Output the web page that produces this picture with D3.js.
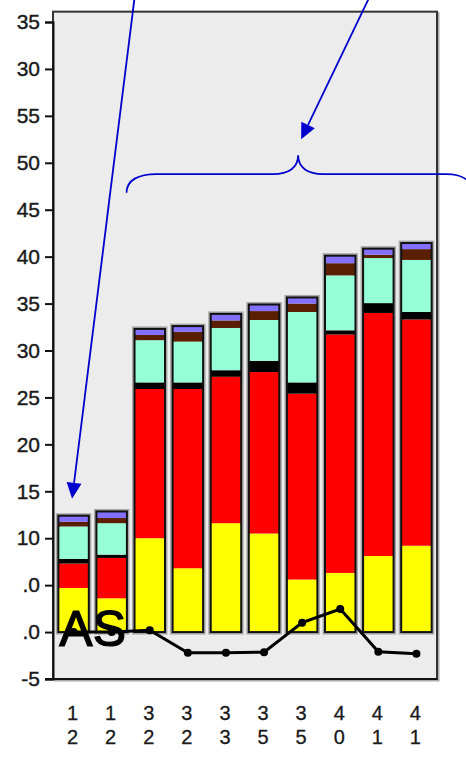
<!DOCTYPE html>
<html>
<head>
<meta charset="utf-8">
<script src="https://cdn.jsdelivr.net/npm/d3@7"></script>
<style>
  body { margin: 0; background: #fff; }
  svg { display: block; }
  text { font-family: "Liberation Sans", Arial, sans-serif; }
</style>
</head>
<body>
<script>
// categories (x labels, read top to bottom)
var categories = ["12", "12", "32", "32", "33", "35", "35", "40", "41", "41"];

// stacked series, bottom to top
var yellowVals = [4.7, 3.6, 10.0, 6.8, 11.6, 10.5, 5.6, 6.3, 8.1, 9.2];
var redVals    = [2.6, 4.3, 15.9, 19.1, 15.6, 17.2, 19.8, 25.4, 25.9, 24.1];
var blackVals  = [0.5, 0.35, 0.7, 0.7, 0.7, 1.2, 1.2, 0.45, 1.05, 0.8];
var aquaVals   = [3.45, 3.35, 4.5, 4.35, 4.5, 4.35, 7.5, 5.85, 4.8, 5.55];
var brownVals  = [0.5, 0.55, 0.55, 1.05, 0.8, 0.95, 0.9, 1.3, 0.35, 1.15];
var purpleVals = [0.65, 0.7, 0.65, 0.6, 0.7, 0.7, 0.65, 0.8, 0.65, 0.65];

// line series
var lineVals = [0, 0, 0.2, -2.2, -2.2, -2.15, 1.0, 2.45, -2.1, -2.3];

// y ticks and their labels as they appear
var yTicks = [-5, 0, 5, 10, 15, 20, 25, 30, 35, 40, 45, 50, 55, 60, 65];
var yTickLabels = ["-5", ".0", ".0", "10", "15", "20", "25", "30", "35", "40", "45", "50", "55", "30", "35"];

var keys = ["yellow", "red", "black", "aqua", "brown", "purple"];
var colors = {
  yellow: "#ffff00", red: "#ff0000", black: "#000000",
  aqua: "#96ffd8", brown: "#5a1e00", purple: "#8470ff"
};

var width = 466;
var height = 761;
var plotLeft = 53;
var plotRight = 437;
var blue = "#0000cc";

var rows = categories.map(function(c, i) {
  return {
    i: i, cat: c,
    yellow: yellowVals[i], red: redVals[i], black: blackVals[i],
    aqua: aquaVals[i], brown: brownVals[i], purple: purpleVals[i]
  };
});

var svg = d3.select("body")
  .append("svg")
  .attr("width", width)
  .attr("height", height);

var x = d3.scaleBand()
  .domain(d3.range(categories.length))
  .range([plotLeft, plotRight])
  .paddingInner(0.2)
  .paddingOuter(0.14);

var y = d3.scaleLinear()
  .domain([-5, 65])
  .range([679, 22]);

// plot frame
var frameTop = y(66.1);
svg.append("rect")
  .attr("x", plotLeft + 1.5)
  .attr("y", frameTop + 1.5)
  .attr("width", plotRight - plotLeft)
  .attr("height", y(-5) - frameTop)
  .attr("fill", "none")
  .attr("stroke", "#aaa")
  .attr("stroke-width", 2);
svg.append("rect")
  .attr("x", plotLeft)
  .attr("y", frameTop)
  .attr("width", plotRight - plotLeft)
  .attr("height", y(-5) - frameTop)
  .attr("fill", "#ececec")
  .attr("stroke", "#333")
  .attr("stroke-width", 2);

// stacked bars
var stacked = d3.stack().keys(keys)(rows);

function total(d) {
  return d3.sum(keys, function(k) { return d[k]; });
}

var bars = svg.append("g");

// soft halo behind each bar
bars.selectAll("rect.halo")
  .data(rows)
  .enter()
  .append("rect")
  .attr("class", "halo")
  .attr("x", function(d) { return x(d.i); })
  .attr("y", function(d) { return y(total(d)); })
  .attr("width", x.bandwidth())
  .attr("height", function(d) { return y(0) - y(total(d)); })
  .attr("fill", "#f6f6f0")
  .attr("stroke", "#a8a8a8")
  .attr("stroke-width", 5);

bars.selectAll("g.layer")
  .data(stacked)
  .enter()
  .append("g")
  .attr("class", "layer")
  .attr("fill", function(d) { return colors[d.key]; })
  .selectAll("rect")
  .data(function(d) { return d; })
  .enter()
  .append("rect")
  .attr("x", function(d) { return x(d.data.i); })
  .attr("y", function(d) { return y(d[1]); })
  .attr("width", x.bandwidth())
  .attr("height", function(d) { return y(d[0]) - y(d[1]); });

bars.selectAll("rect.outline")
  .data(rows)
  .enter()
  .append("rect")
  .attr("class", "outline")
  .attr("x", function(d) { return x(d.i); })
  .attr("y", function(d) { return y(total(d)); })
  .attr("width", x.bandwidth())
  .attr("height", function(d) { return y(0) - y(total(d)); })
  .attr("fill", "none")
  .attr("stroke", "#111")
  .attr("stroke-width", 2);

// y axis
var yAxis = d3.axisLeft(y)
  .tickValues(yTicks)
  .tickSize(8)
  .tickPadding(5)
  .tickFormat(function(d, i) { return yTickLabels[i]; });

var yAxisG = svg.append("g")
  .attr("transform", "translate(" + plotLeft + ",0)")
  .call(yAxis);
yAxisG.select(".domain").attr("stroke", "#111").attr("stroke-width", 2);
yAxisG.selectAll(".tick line").attr("stroke", "#111").attr("stroke-width", 2);
yAxisG.selectAll(".tick text")
  .attr("font-size", "21px")
  .attr("font-family", "'Liberation Sans', Arial, sans-serif")
  .attr("fill", "#1a1a1a")
  .attr("stroke", "#1a1a1a")
  .attr("stroke-width", 0.4);

// bottom line
svg.append("line")
  .attr("x1", plotLeft - 8)
  .attr("x2", plotRight)
  .attr("y1", y(-5))
  .attr("y2", y(-5))
  .attr("stroke", "#111")
  .attr("stroke-width", 2);

// x labels, one digit per line
var xLab = svg.append("g").selectAll("text")
  .data(rows)
  .enter()
  .append("text")
  .attr("x", function(d) { return x(d.i) + x.bandwidth() / 2 - 1; })
  .attr("y", 720)
  .attr("text-anchor", "middle")
  .attr("font-size", "20px")
  .attr("fill", "#1a1a1a")
  .attr("stroke", "#1a1a1a")
  .attr("stroke-width", 0.3);

xLab.selectAll("tspan")
  .data(function(d) { return d.cat.split(""); })
  .enter()
  .append("tspan")
  .attr("x", function() { return d3.select(this.parentNode).attr("x"); })
  .attr("dy", function(d, i) { return i === 0 ? 0 : 24; })
  .text(function(d) { return d; });

// line series
var lineGen = d3.line()
  .x(function(d, i) { return x(i) + x.bandwidth() / 2; })
  .y(function(d) { return y(d); });

svg.append("path")
  .datum(lineVals)
  .attr("d", lineGen)
  .attr("fill", "none")
  .attr("stroke", "#000")
  .attr("stroke-width", 3);

svg.selectAll("circle.pt")
  .data(lineVals)
  .enter()
  .append("circle")
  .attr("class", "pt")
  .attr("cx", function(d, i) { return x(i) + x.bandwidth() / 2; })
  .attr("cy", function(d) { return y(d); })
  .attr("r", 4)
  .attr("fill", "#000");

// big label
svg.append("text")
  .attr("x", x(0) + 1)
  .attr("y", y(0) + 14)
  .attr("font-size", "50px")
  .attr("fill", "#000")
  .attr("stroke", "#000")
  .attr("stroke-width", 1.2)
  .text("AS");

// blue annotations
function arrow(x1, y1, x2, y2) {
  var ang = Math.atan2(y2 - y1, x2 - x1);
  var len = 16, hw = 7.5;
  var bx = x2 - len * Math.cos(ang), by = y2 - len * Math.sin(ang);
  svg.append("line")
    .attr("x1", x1).attr("y1", y1)
    .attr("x2", bx).attr("y2", by)
    .attr("stroke", blue)
    .attr("stroke-width", 1.8);
  svg.append("polygon")
    .attr("points", [
      [x2, y2],
      [bx + hw * Math.sin(ang), by - hw * Math.cos(ang)],
      [bx - hw * Math.sin(ang), by + hw * Math.cos(ang)]
    ].map(function(p) { return p.join(","); }).join(" "))
    .attr("fill", blue);
}

arrow(134.5, -2, x(0) + x.bandwidth() / 2 - 1.5, y(14.2));
arrow(369, -2, x(6) + x.bandwidth() / 2 - 1, y(52.5));

var bx0 = x(2) - 8;
var peakX = x(6) + x.bandwidth() / 2 - 4;
var by = y(48.8), byEnd = y(46.8), byPeak = y(50.8);
svg.append("path")
  .attr("d",
    "M" + bx0 + "," + byEnd +
    " C" + bx0 + "," + (by + 6) + " " + (bx0 + 12) + "," + by + " " + (bx0 + 30) + "," + by +
    " L" + (peakX - 25) + "," + by +
    " C" + (peakX - 10) + "," + by + " " + peakX + "," + (by - 6) + " " + peakX + "," + byPeak +
    " C" + peakX + "," + (by - 6) + " " + (peakX + 10) + "," + by + " " + (peakX + 25) + "," + by +
    " L" + 446 + "," + by +
    " C" + 462 + "," + by + " " + 472 + "," + (by + 6) + " " + 472 + "," + byEnd)
  .attr("fill", "none")
  .attr("stroke", blue)
  .attr("stroke-width", 1.8);
</script>
</body>
</html>
